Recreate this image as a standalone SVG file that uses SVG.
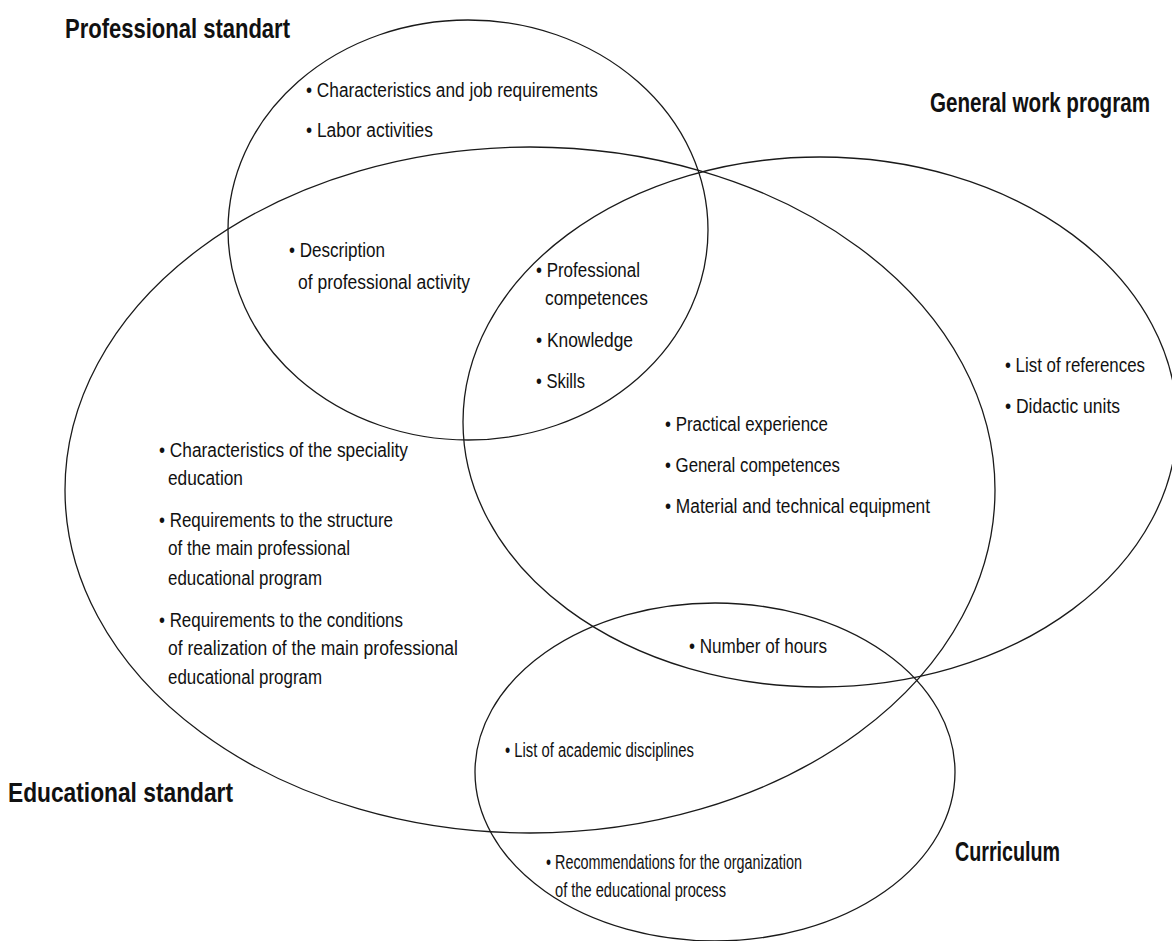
<svg xmlns="http://www.w3.org/2000/svg" width="1172" height="941" viewBox="0 0 1172 941">
<style>
.e{fill:none;stroke:#1a1a1a;stroke-width:1.3}
.t{font-family:"Liberation Sans Narrow","Liberation Sans",Arial,sans-serif;font-size:20px;fill:#111}
.h{font-family:"Liberation Sans Narrow","Liberation Sans",Arial,sans-serif;font-size:27px;font-weight:bold;fill:#111}
</style>
<rect width="1172" height="941" fill="#fff"/>
<g id="connectors"></g>
<g id="professional-standart">
<ellipse class="e" cx="468" cy="230" rx="240" ry="210"/>
<text class="h" x="65" y="38" textLength="225" lengthAdjust="spacingAndGlyphs">Professional standart</text>
<text class="t" x="306" y="97" textLength="292" lengthAdjust="spacingAndGlyphs">• Characteristics and job requirements</text>
<text class="t" x="306" y="137" textLength="127" lengthAdjust="spacingAndGlyphs">• Labor activities</text>
</g>
<g id="educational-standart">
<ellipse class="e" cx="530" cy="490" rx="465" ry="343"/>
<text class="h" x="8" y="802" textLength="225" lengthAdjust="spacingAndGlyphs">Educational standart</text>
<text class="t" x="159" y="457" textLength="249" lengthAdjust="spacingAndGlyphs">• Characteristics of the speciality</text>
<text class="t" x="168" y="485" textLength="75" lengthAdjust="spacingAndGlyphs">education</text>
<text class="t" x="159" y="527" textLength="234" lengthAdjust="spacingAndGlyphs">• Requirements to the structure</text>
<text class="t" x="168" y="555" textLength="182" lengthAdjust="spacingAndGlyphs">of the main professional</text>
<text class="t" x="168" y="585" textLength="154" lengthAdjust="spacingAndGlyphs">educational program</text>
<text class="t" x="159" y="627" textLength="244" lengthAdjust="spacingAndGlyphs">• Requirements to the conditions</text>
<text class="t" x="168" y="655" textLength="290" lengthAdjust="spacingAndGlyphs">of realization of the main professional</text>
<text class="t" x="168" y="684" textLength="154" lengthAdjust="spacingAndGlyphs">educational program</text>
</g>
<g id="general-work-program">
<ellipse class="e" cx="820" cy="422" rx="357" ry="265"/>
<text class="h" x="930" y="112" textLength="220" lengthAdjust="spacingAndGlyphs">General work program</text>
<text class="t" x="1005" y="372" textLength="140" lengthAdjust="spacingAndGlyphs">• List of references</text>
<text class="t" x="1005" y="413" textLength="115" lengthAdjust="spacingAndGlyphs">• Didactic units</text>
</g>
<g id="curriculum">
<ellipse class="e" cx="715" cy="772" rx="240" ry="169"/>
<text class="h" x="955" y="861" textLength="105" lengthAdjust="spacingAndGlyphs">Curriculum</text>
<text class="t" x="546" y="869" textLength="256" lengthAdjust="spacingAndGlyphs">• Recommendations for the organization</text>
<text class="t" x="555" y="897" textLength="171" lengthAdjust="spacingAndGlyphs">of the educational process</text>
</g>
<g id="prof-edu-overlap">
<text class="t" x="289" y="257" textLength="96" lengthAdjust="spacingAndGlyphs">• Description</text>
<text class="t" x="298" y="289" textLength="172" lengthAdjust="spacingAndGlyphs">of professional activity</text>
</g>
<g id="prof-edu-gwp-overlap">
<text class="t" x="536" y="277" textLength="104" lengthAdjust="spacingAndGlyphs">• Professional</text>
<text class="t" x="545" y="305" textLength="103" lengthAdjust="spacingAndGlyphs">competences</text>
<text class="t" x="536" y="347" textLength="97" lengthAdjust="spacingAndGlyphs">• Knowledge</text>
<text class="t" x="536" y="388" textLength="49" lengthAdjust="spacingAndGlyphs">• Skills</text>
</g>
<g id="edu-gwp-overlap">
<text class="t" x="665" y="431" textLength="163" lengthAdjust="spacingAndGlyphs">• Practical experience</text>
<text class="t" x="665" y="472" textLength="175" lengthAdjust="spacingAndGlyphs">• General competences</text>
<text class="t" x="665" y="513" textLength="265" lengthAdjust="spacingAndGlyphs">• Material and technical equipment</text>
</g>
<g id="edu-gwp-curriculum-overlap">
<text class="t" x="689" y="653" textLength="138" lengthAdjust="spacingAndGlyphs">• Number of hours</text>
</g>
<g id="edu-curriculum-overlap">
<text class="t" x="505" y="757" textLength="189" lengthAdjust="spacingAndGlyphs">• List of academic disciplines</text>
</g>
</svg>
